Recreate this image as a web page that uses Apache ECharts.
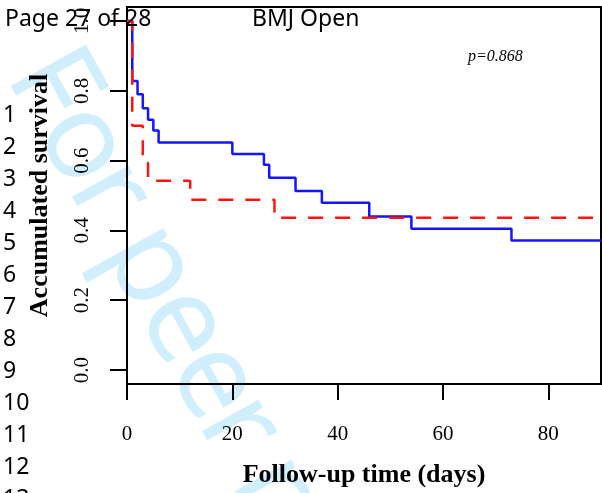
<!DOCTYPE html>
<html>
<head>
<meta charset="utf-8">
<script src="https://cdn.jsdelivr.net/npm/echarts@6/dist/echarts.min.js"></script>
<style>
html,body{margin:0;padding:0;background:#fff;}
#chart{width:602px;height:493px;}
</style>
</head>
<body>
<div id="chart"></div>
<script>
// ---- data ----
var blueTimes  = [0, 1, 2, 3, 4, 5, 6, 20, 26, 27, 32, 37, 46, 54, 73, 90];
var blueSurv   = [1, 0.828, 0.790, 0.750, 0.717, 0.686, 0.652, 0.619, 0.588, 0.551, 0.513, 0.479, 0.440, 0.405, 0.371, 0.371];
var redTimes   = [0, 1, 3, 4, 12, 28, 90];
var redSurv    = [1, 0.700, 0.594, 0.542, 0.488, 0.436, 0.436];
var xTicks     = [0, 20, 40, 60, 80];
var yTicks     = [0, 0.2, 0.4, 0.6, 0.8, 1.0];
var pText      = 'p=0.868';
var xTitle     = 'Follow-up time (days)';
var yTitle     = 'Accumulated survival';
var lineNums   = ['1','2','3','4','5','6','7','8','9','10','11','12','13'];
var headerLeft = 'Page 27 of 28';
var headerMid  = 'BMJ Open';
var watermark  = 'For peer review only';

function pairs(xs, ys) { return xs.map(function (x, i) { return [x, ys[i]]; }); }

var chart = echarts.init(document.getElementById('chart'), null, {renderer: 'canvas'});

var graphics = [];
// watermark: letters laid out along a diagonal baseline with narrow (Myriad-like) advances
var wmAdv = {'F':.492,'o':.549,'r':.327,' ':.212,'p':.569,'e':.501,'v':.468,'i':.234,'w':.736,'n':.555,'l':.236,'y':.471};
var wmAng = 61 * Math.PI / 180, wmEm = 127, wmX0 = 35, wmY0 = 59;
var wmCum = 0;
watermark.split('').forEach(function (ch) {
  var a = (wmAdv[ch] || 0.5) * wmEm;
  if (ch !== ' ') {
    var s = wmCum + a / 2;
    graphics.push({
      type: 'text', z: -10, silent: true,
      x: wmX0 + s * Math.cos(wmAng), y: wmY0 + s * Math.sin(wmAng), rotation: -wmAng,
      style: { text: ch, fill: '#d0eefb', font: '120px "Noto Sans"', textAlign: 'center', textVerticalAlign: 'middle' }
    });
  }
  wmCum += a;
});
// header
graphics.push({ type: 'text', z: 50, x: 5, y: 19, style: { text: headerLeft, fill: '#000', font: '23px "Noto Sans"', textAlign: 'left', textVerticalAlign: 'middle' } });
graphics.push({ type: 'text', z: 50, x: 252, y: 19, style: { text: headerMid, fill: '#000', font: '23px "Noto Sans"', textAlign: 'left', textVerticalAlign: 'middle' } });
// line numbers
lineNums.forEach(function (n, i) {
  graphics.push({ type: 'text', z: 50, x: 3, y: 115.5 + 32 * i, style: { text: n, fill: '#000', font: '23px "Noto Sans"', textAlign: 'left', textVerticalAlign: 'middle' } });
});
// p-value
graphics.push({ type: 'text', z: 50, x: 468, y: 57, style: { text: pText, fill: '#000', font: 'italic 16px "Liberation Serif"', textAlign: 'left', textVerticalAlign: 'middle' } });

var serif = '"Liberation Serif", "Times New Roman", serif';

chart.setOption({
  animation: false,
  backgroundColor: '#fff',
  grid: { left: 127, right: 1, top: 7, bottom: 106, show: true, borderColor: '#000', borderWidth: 2, backgroundColor: 'transparent' },
  xAxis: {
    type: 'value', min: 0, max: 90,
    name: xTitle, nameLocation: 'middle', nameGap: 78,
    nameTextStyle: { fontFamily: serif, fontWeight: 'bold', fontSize: 26, color: '#000' },
    axisLine: { show: true, onZero: false, lineStyle: { color: '#000', width: 2 } },
    axisTick: { show: true, length: 16, customValues: xTicks, lineStyle: { color: '#000', width: 2 } },
    axisLabel: { customValues: xTicks, fontFamily: serif, fontSize: 21, color: '#000', margin: 40 },
    splitLine: { show: false }
  },
  yAxis: {
    type: 'value', min: -0.04, max: 1.04,
    name: yTitle, nameLocation: 'middle', nameGap: 74, nameRotate: 90,
    nameTextStyle: { fontFamily: serif, fontWeight: 'bold', fontSize: 26, color: '#000' },
    axisLine: { show: true, onZero: false, lineStyle: { color: '#000', width: 2 } },
    axisTick: { show: true, length: 17, customValues: yTicks, lineStyle: { color: '#000', width: 2 } },
    axisLabel: { customValues: yTicks, rotate: 90, fontFamily: serif, fontSize: 21, color: '#000', margin: 34,
      formatter: function (v) { return v.toFixed(1); } },
    splitLine: { show: false }
  },
  series: [
    { type: 'line', step: 'end', symbol: 'none', data: pairs(blueTimes, blueSurv),
      lineStyle: { color: '#1414ff', width: 2.5 }, z: 3 },
    { type: 'line', step: 'end', symbol: 'none', data: pairs(redTimes, redSurv),
      lineStyle: { color: '#ff1414', width: 2.5, type: [15, 12] }, z: 4 }
  ],
  graphic: graphics
});
</script>
</body>
</html>
